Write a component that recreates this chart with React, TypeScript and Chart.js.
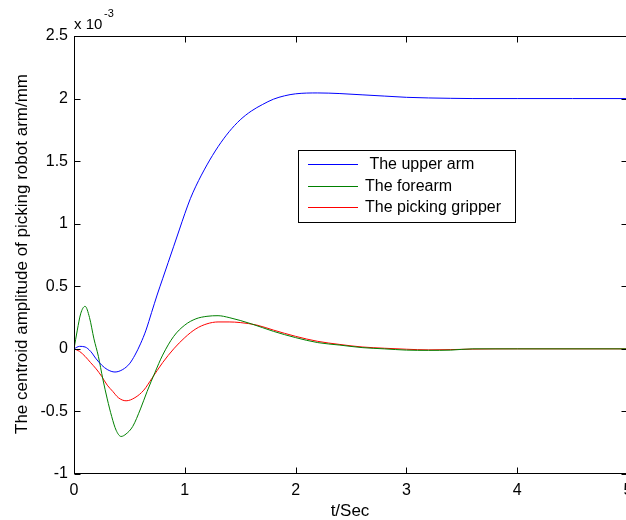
import React, { useEffect, useRef } from "react";
import { Chart, registerables } from "chart.js";

Chart.register(...registerables);

// Data (amplitude values in units of 1e-3 mm)
const upperT = [0, 0.05, 0.1, 0.15, 0.2, 0.25, 0.3, 0.37, 0.44, 0.5, 0.55, 0.6, 0.65, 0.7, 0.75, 0.8, 0.85, 0.9, 0.95, 1.0, 1.05, 1.1, 1.2, 1.3, 1.4, 1.5, 1.6, 1.7, 1.8, 1.9, 2.0, 2.2, 2.4, 2.6, 2.8, 3.0, 3.2, 3.4, 3.6, 4.0, 4.5, 5.0];
const upperY = [0, 0.02, 0.015, -0.02, -0.08, -0.13, -0.165, -0.185, -0.165, -0.12, -0.05, 0.04, 0.15, 0.29, 0.43, 0.56, 0.69, 0.82, 0.95, 1.08, 1.2, 1.3, 1.47, 1.615, 1.735, 1.83, 1.9, 1.952, 1.995, 2.022, 2.038, 2.045, 2.04, 2.03, 2.02, 2.01, 2.005, 2.002, 2.0, 2.0, 2.0, 2.0];

const foreT = [0, 0.03, 0.06, 0.1, 0.14, 0.18, 0.22, 0.26, 0.3, 0.34, 0.38, 0.425, 0.47, 0.53, 0.6, 0.66, 0.73, 0.8, 0.9, 1.0, 1.1, 1.2, 1.3, 1.4, 1.6, 1.8, 2.0, 2.2, 2.4, 2.6, 2.8, 3.0, 3.2, 3.4, 3.6, 4.0, 5.0];
const foreY = [0, 0.15, 0.28, 0.34, 0.25, 0.08, -0.06, -0.24, -0.4, -0.54, -0.65, -0.7, -0.68, -0.62, -0.48, -0.34, -0.19, -0.05, 0.1, 0.19, 0.24, 0.26, 0.265, 0.25, 0.2, 0.14, 0.09, 0.05, 0.03, 0.01, 0.0, -0.01, -0.012, -0.01, 0, 0, 0];

const gripT = [0, 0.05, 0.1, 0.15, 0.2, 0.25, 0.3, 0.35, 0.4, 0.47, 0.55, 0.63, 0.7, 0.8, 0.9, 1.0, 1.1, 1.2, 1.3, 1.4, 1.5, 1.65, 1.8, 2.0, 2.2, 2.4, 2.6, 2.8, 3.0, 3.2, 3.4, 3.6, 4.0, 5.0];
const gripY = [0, -0.02, -0.06, -0.11, -0.16, -0.22, -0.29, -0.34, -0.39, -0.415, -0.39, -0.33, -0.24, -0.11, 0.0, 0.09, 0.16, 0.2, 0.215, 0.215, 0.21, 0.19, 0.15, 0.1, 0.06, 0.035, 0.015, 0.005, -0.003, -0.008, -0.006, -0.002, 0, 0];

const seriesNames = [" The upper arm", "The forearm", "The picking gripper"];
const seriesColors = ["#0000ff", "#008000", "#ff0000"];

const xTitle = "t/Sec";
const yTitle = "The centroid amplitude of picking robot arm/mm";

const FONT = "'Liberation Sans', Arial, sans-serif";

const toPts = (t: number[], y: number[]) => t.map((v, i) => ({ x: v, y: y[i] }));

const framePlugin = {
  id: "frame",
  afterDatasetsDraw(chart: any) {
    const { ctx, chartArea: a, scales } = chart;
    const xs = scales.x;
    const ys = scales.y;
    ctx.save();
    ctx.strokeStyle = "#000";
    ctx.lineWidth = 1;
    const L = Math.round(a.left) + 0.5;
    const R = Math.round(a.right) - 0.5;
    const T = Math.round(a.top) + 0.5;
    const B = Math.round(a.bottom) - 0.5;
    ctx.strokeRect(L, T, R - L, B - T);
    const tl = 6;
    ctx.beginPath();
    for (let v = 0; v <= 5; v++) {
      const px = Math.round(xs.getPixelForValue(v)) + 0.5;
      ctx.moveTo(px, B);
      ctx.lineTo(px, B - tl);
      ctx.moveTo(px, T);
      ctx.lineTo(px, T + tl);
    }
    for (let v = -1; v <= 2.5001; v += 0.5) {
      const py = Math.round(ys.getPixelForValue(v)) + 0.5;
      ctx.moveTo(L, py);
      ctx.lineTo(L + tl, py);
      ctx.moveTo(R, py);
      ctx.lineTo(R - tl, py);
    }
    ctx.stroke();

    // Legend
    const lx = 298.5, ly = 150.5, lw = 217, lh = 72;
    ctx.fillStyle = "#fff";
    ctx.fillRect(lx, ly, lw, lh);
    ctx.strokeRect(lx, ly, lw, lh);
    const rows = [164, 186, 207];
    ctx.font = `16px ${FONT}`;
    ctx.textBaseline = "middle";
    ctx.textAlign = "left";
    seriesNames.forEach((n, i) => {
      ctx.strokeStyle = seriesColors[i];
      ctx.beginPath();
      ctx.moveTo(308, rows[i] + 0.5);
      ctx.lineTo(358, rows[i] + 0.5);
      ctx.stroke();
      ctx.fillStyle = "#000";
      ctx.fillText(n, 365, rows[i] + 1);
    });

    // Exponent label
    ctx.fillStyle = "#000";
    ctx.textBaseline = "alphabetic";
    ctx.font = `15px ${FONT}`;
    ctx.fillText("x 10", 74, 29);
    ctx.font = `11px ${FONT}`;
    ctx.fillText("-3", 104, 17);

    // Axis titles
    ctx.font = `17px ${FONT}`;
    ctx.textAlign = "center";
    ctx.textBaseline = "middle";
    ctx.fillText(xTitle, 350, 511);
    ctx.save();
    ctx.translate(22, 254);
    ctx.rotate(-Math.PI / 2);
    ctx.fillText(yTitle, 0, 0);
    ctx.restore();
    ctx.restore();
  },
};

export default function App() {
  const ref = useRef<HTMLCanvasElement>(null);
  useEffect(() => {
    if (!ref.current) return;
    const chart = new Chart(ref.current, {
      type: "line",
      data: {
        datasets: [
          { label: seriesNames[0], data: toPts(upperT, upperY), borderColor: seriesColors[0] },
          { label: seriesNames[1], data: toPts(foreT, foreY), borderColor: seriesColors[1] },
          { label: seriesNames[2], data: toPts(gripT, gripY), borderColor: seriesColors[2] },
        ].map((d) => ({
          ...d,
          borderWidth: 1,
          pointRadius: 0,
          fill: false,
          cubicInterpolationMode: "monotone" as const,
        })),
      },
      options: {
        responsive: false,
        animation: false,
        devicePixelRatio: 1,
        layout: { padding: { top: 36, right: 0, left: 0, bottom: 0 } },
        plugins: { legend: { display: false }, tooltip: { enabled: false } },
        scales: {
          x: {
            type: "linear",
            min: 0,
            max: 5,
            grid: { display: false, drawTicks: false },
            border: { display: false },
            ticks: {
              stepSize: 1,
              autoSkip: false,
              maxRotation: 0,
              padding: 7,
              color: "#000",
              font: { family: FONT, size: 16 },
              callback: (v: any) => String(v),
            },
            afterFit: (s: any) => {
              s.height = 46;
              s.paddingLeft = 0;
              s.paddingRight = 0;
            },
          },
          y: {
            type: "linear",
            min: -1,
            max: 2.5,
            grid: { display: false, drawTicks: false },
            border: { display: false },
            ticks: {
              stepSize: 0.5,
              autoSkip: false,
              padding: 6,
              color: "#000",
              font: { family: FONT, size: 16 },
              callback: (v: any) => String(Math.round(v * 10) / 10),
            },
            afterFit: (s: any) => {
              s.width = 74;
              s.paddingTop = 0;
              s.paddingBottom = 0;
            },
          },
        },
      },
      plugins: [framePlugin],
    });
    return () => chart.destroy();
  }, []);
  return (
    <div style={{ position: "fixed", left: 0, top: 0, width: 626, height: 520, overflow: "hidden", background: "#fff" }}>
      <canvas ref={ref} width={628} height={520} style={{ display: "block" }} />
    </div>
  );
}
